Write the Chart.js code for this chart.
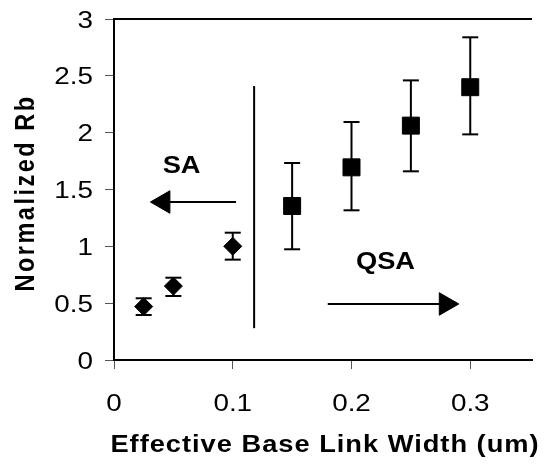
<!DOCTYPE html>
<html>
<head>
<meta charset="utf-8">
<script src="https://cdn.jsdelivr.net/npm/chart.js@4/dist/chart.umd.min.js"></script>
<style>
html, body { margin: 0; padding: 0; background: #fff; }
#wrap { width: 546px; height: 465px; }
</style>
</head>
<body>
<div id="wrap"><canvas id="myChart" width="546" height="465"></canvas></div>
<script>
// SA points (diamonds) and QSA points (squares), with error bar ends
const saWidth = [0.025, 0.05, 0.1]
const saRb = [0.47, 0.65, 1.0]
const saLow = [0.396, 0.563, 0.883]
const saHigh = [0.543, 0.724, 1.12]

const qsaWidth = [0.15, 0.2, 0.25, 0.3]
const qsaRb = [1.355, 1.695, 2.062, 2.4]
const qsaLow = [0.974, 1.317, 1.66, 1.985]
const qsaHigh = [1.733, 2.094, 2.46, 2.839]

// divider line and the two arrows (data units)
const dividerX = 0.118
const dividerY = [0.28, 2.41]
const saArrowX = [0.1028, 0.0416]
const saArrowY = 1.39
const qsaArrowX = [0.18, 0.2794]
const qsaArrowY = 0.493

const regionLabels = ['SA', 'QSA']
const regionLabelX = [0.0569, 0.2286]
const regionLabelY = [1.642, 0.797]

const xTitle = 'Effective Base Link Width (um)'
const yTitle = 'Normalized Rb'

const FONT = "'Liberation Sans', Arial, sans-serif"
const STRETCH = 1.16 // the original text is a bit wide

function errorBars(xs, lo, hi) {
	return xs.map((x, i) => ({
		data: [{ x: x, y: lo[i] }, { x: x, y: hi[i] }],
		showLine: true,
		borderColor: '#000',
		borderWidth: 2,
		pointStyle: 'line',
		pointRadius: 8,
		pointBorderWidth: 2,
		pointBorderColor: '#000',
		order: 3,
	}))
}

function arrow(xs, y, rot) {
	return {
		data: [{ x: xs[0], y: y }, { x: xs[1], y: y }],
		showLine: true,
		borderColor: '#000',
		borderWidth: 2,
		pointStyle: 'triangle',
		pointRadius: [0, 13],
		pointRotation: rot,
		pointBackgroundColor: '#000',
		pointBorderColor: '#000',
		pointBorderWidth: 1,
		order: 4,
	}
}

function wideText(ctx, text, x, y, align, sx, sy) {
	ctx.save()
	ctx.translate(x, y)
	ctx.scale(sx, sy)
	ctx.textAlign = align
	ctx.fillText(text, 0, 0)
	ctx.restore()
}

const textPlugin = {
	id: 'texts',
	afterDraw(chart) {
		const ctx = chart.ctx
		const xs = chart.scales.x
		const ys = chart.scales.y
		const area = chart.chartArea
		ctx.save()
		// frame top line
		ctx.strokeStyle = '#000'
		ctx.lineWidth = 2
		ctx.beginPath()
		ctx.moveTo(area.left, area.top)
		ctx.lineTo(area.right, area.top)
		ctx.stroke()

		ctx.fillStyle = '#000'
		ctx.textBaseline = 'alphabetic'

		// tick labels, from the scales' own ticks
		ctx.font = '24px ' + FONT
		ys.ticks.forEach((t) => {
			wideText(ctx, String(t.value), 93, ys.getPixelForValue(t.value) + 8.5, 'right', STRETCH, 1)
		})
		xs.ticks.forEach((t) => {
			wideText(ctx, String(Math.round(t.value * 10) / 10), xs.getPixelForValue(t.value), 411, 'center', STRETCH, 1)
		})

		ctx.font = 'bold 23.5px ' + FONT
		regionLabels.forEach((t, i) => {
			wideText(ctx, t, xs.getPixelForValue(regionLabelX[i]), ys.getPixelForValue(regionLabelY[i]), 'center', STRETCH, 1)
		})
		// axis titles
		ctx.letterSpacing = '0.85px'
		wideText(ctx, xTitle, 325, 452, 'center', STRETCH, 1)
		ctx.letterSpacing = '2.5px'
		ctx.translate(34, 193)
		ctx.rotate(-Math.PI / 2)
		wideText(ctx, yTitle, 0, 0, 'center', 1, STRETCH)
		ctx.restore()
	},
}

const ctx = document.getElementById('myChart')
Chart.defaults.font.family = FONT
Chart.defaults.color = '#000'

new Chart(ctx, {
	type: 'scatter',
	data: {
		datasets: [
			{
				data: saWidth.map((x, i) => ({ x: x, y: saRb[i] })),
				pointStyle: 'rectRot',
				pointRadius: 9,
				backgroundColor: '#000',
				borderColor: '#000',
				borderWidth: 1,
				order: 1,
			},
			{
				data: qsaWidth.map((x, i) => ({ x: x, y: qsaRb[i] })),
				pointStyle: 'rect',
				pointRadius: 12,
				backgroundColor: '#000',
				borderColor: '#000',
				borderWidth: 1,
				order: 1,
			},
			...errorBars(saWidth, saLow, saHigh),
			...errorBars(qsaWidth, qsaLow, qsaHigh),
			{
				data: [{ x: dividerX, y: dividerY[0] }, { x: dividerX, y: dividerY[1] }],
				showLine: true,
				borderColor: '#000',
				borderWidth: 2,
				pointRadius: 0,
				order: 4,
			},
			arrow(saArrowX, saArrowY, -90),
			arrow(qsaArrowX, qsaArrowY, 90),
		],
	},
	options: {
		responsive: false,
		animation: false,
		events: [],
		layout: { padding: { top: 19, left: 0, right: 0, bottom: 0 } },
		plugins: {
			legend: { display: false },
			tooltip: { enabled: false },
		},
		scales: {
			x: {
				type: 'linear',
				min: 0,
				max: 0.352,
				afterFit: (scale) => { scale.height = 105 },
				ticks: {
					stepSize: 0.1,
					includeBounds: false,
					display: false,
				},
				grid: { drawOnChartArea: false, drawTicks: true, tickLength: 9, color: '#555' },
				border: { color: '#000', width: 2 },
			},
			y: {
				min: 0,
				max: 3,
				afterFit: (scale) => { scale.width = 114 },
				ticks: {
					stepSize: 0.5,
					display: false,
				},
				grid: { drawOnChartArea: false, drawTicks: true, tickLength: 9, color: '#555' },
				border: { color: '#000', width: 2 },
			},
		},
	},
	plugins: [textPlugin],
})
</script>
</body>
</html>
